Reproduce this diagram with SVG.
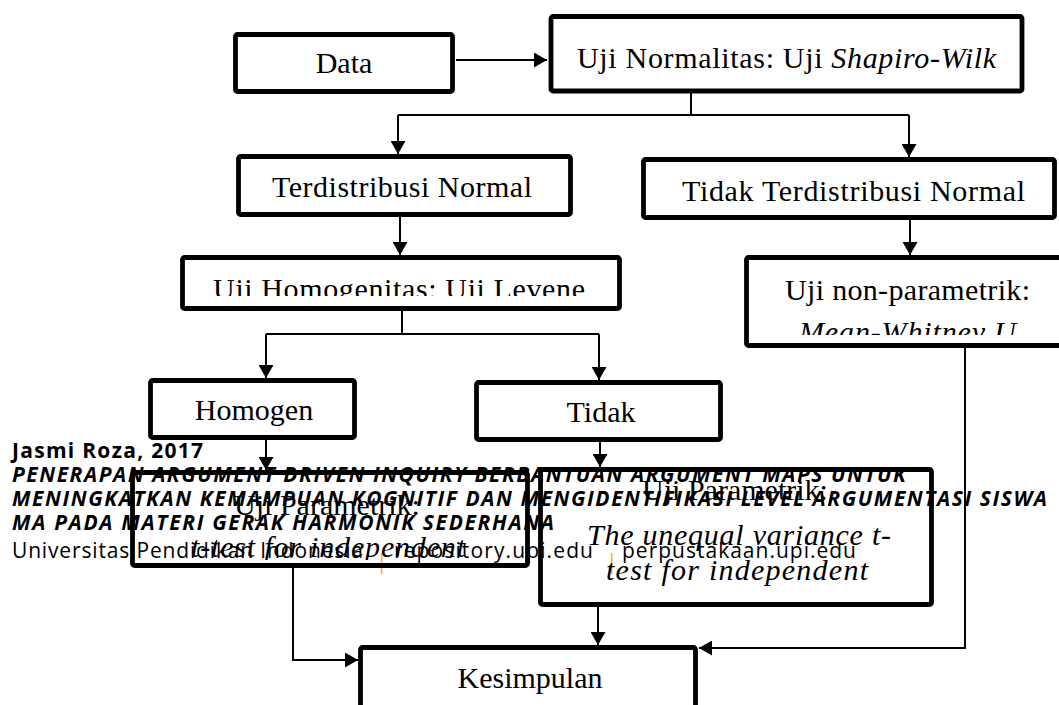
<svg xmlns="http://www.w3.org/2000/svg" width="1059" height="705" viewBox="0 0 1059 705">
<style>
.box{fill:none;stroke:#000;stroke-width:4.8;stroke-linejoin:round}
.conn{fill:none;stroke:#000;stroke-width:2}
.t{font-family:"Liberation Serif","Times New Roman",serif;font-size:30px;fill:#000}
.c{text-anchor:middle}
.i{font-style:italic}
.wm{font-family:"Open Sans","DejaVu Sans",sans-serif;font-size:21px;fill:#000}
.bi{font-weight:bold;font-style:italic}
.b{font-weight:bold}
.pipe{fill:#f0b400}
</style>
<defs>
<marker id="ah" markerUnits="userSpaceOnUse" viewBox="0 0 13 15" markerWidth="13" markerHeight="15" refX="13" refY="7.5" orient="auto">
<path d="M0,0 L13,7.5 L0,15 z" fill="#000"/>
</marker>
<clipPath id="clipHomog"><rect x="180" y="255" width="442" height="41"/></clipPath>
<clipPath id="clipMW"><rect x="744" y="305" width="330" height="30"/></clipPath>
<clipPath id="clipTt"><rect x="130" y="525" width="400" height="35"/></clipPath>
</defs>
<rect width="1059" height="705" fill="#fff"/>

<g id="watermark">
<text class="wm b" x="12" y="458" textLength="191" lengthAdjust="spacing">Jasmi Roza, 2017</text>
<text class="wm bi" x="12" y="482" textLength="894" lengthAdjust="spacing">PENERAPAN ARGUMENT DRIVEN INQUIRY BERBANTUAN ARGUMENT MAPS UNTUK</text>
<text class="wm bi" x="12" y="506" textLength="1035" lengthAdjust="spacing">MENINGKATKAN KEMAMPUAN KOGNITIF DAN MENGIDENTIFIKASI LEVEL ARGUMENTASI SISWA</text>
<text class="wm bi" x="12" y="530" textLength="542" lengthAdjust="spacing">MA PADA MATERI GERAK HARMONIK SEDERHANA</text>
<text class="wm" x="12" y="558" textLength="351" lengthAdjust="spacing">Universitas Pendidikan Indonesia</text>
<text class="wm pipe" x="376" y="569">|</text>
<text class="wm" x="394" y="558" textLength="199" lengthAdjust="spacing">repository.upi.edu</text>
<text class="wm pipe" x="606" y="569">|</text>
<text class="wm" x="622" y="558" textLength="234" lengthAdjust="spacing">perpustakaan.upi.edu</text>
</g>

<g id="connectors">
<path class="conn" d="M456,60 H547" marker-end="url(#ah)"/>
<path class="conn" d="M691,93 V115 M398,115 H909"/>
<path class="conn" d="M398,115 V154" marker-end="url(#ah)"/>
<path class="conn" d="M909,115 V157" marker-end="url(#ah)"/>
<path class="conn" d="M400,217 V255" marker-end="url(#ah)"/>
<path class="conn" d="M910,220 V255" marker-end="url(#ah)"/>
<path class="conn" d="M402,311 V334 M266,334 H599"/>
<path class="conn" d="M266,334 V378" marker-end="url(#ah)"/>
<path class="conn" d="M599,334 V380" marker-end="url(#ah)"/>
<path class="conn" d="M266,440 V470" marker-end="url(#ah)"/>
<path class="conn" d="M600,442 V467" marker-end="url(#ah)"/>
<path class="conn" d="M293,568 V660 H358" marker-end="url(#ah)"/>
<path class="conn" d="M598,607 V645" marker-end="url(#ah)"/>
<path class="conn" d="M965,348 V648 H699" marker-end="url(#ah)"/>
</g>

<g id="data">
<rect class="box" x="235.5" y="34.5" width="217" height="57" rx="2"/>
<text class="t c" x="344" y="73">Data</text>
</g>
<g id="normalitas">
<rect class="box" x="551" y="16.5" width="471" height="74.5" rx="2"/>
<text class="t" x="577" y="68" textLength="419" lengthAdjust="spacing">Uji Normalitas: Uji <tspan class="i">Shapiro-Wilk</tspan></text>
</g>
<g id="terdistribusi">
<rect class="box" x="238.5" y="156.5" width="332" height="58" rx="2"/>
<text class="t" x="272" y="197" textLength="260" lengthAdjust="spacing">Terdistribusi Normal</text>
</g>
<g id="tidak-terdistribusi">
<rect class="box" x="643.5" y="159.5" width="411" height="58" rx="2"/>
<text class="t" x="682" y="201" textLength="343" lengthAdjust="spacing">Tidak Terdistribusi Normal</text>
</g>
<g id="homogenitas">
<rect class="box" x="182.5" y="257.5" width="437" height="51" rx="2"/>
<text class="t" x="213" y="299" textLength="372" lengthAdjust="spacing" clip-path="url(#clipHomog)">Uji Homogenitas: Uji Levene</text>
</g>
<g id="non-parametrik">
<rect class="box" x="746.5" y="257.5" width="330" height="88" rx="2"/>
<text class="t" x="785" y="300" textLength="245" lengthAdjust="spacing">Uji non-parametrik:</text>
<text class="t i" x="799" y="342" textLength="217" lengthAdjust="spacing" clip-path="url(#clipMW)">Mean-Whitney U</text>
</g>
<g id="homogen">
<rect class="box" x="150.5" y="380.5" width="204" height="57" rx="2"/>
<text class="t c" x="254" y="420">Homogen</text>
</g>
<g id="tidak">
<rect class="box" x="476.5" y="382.5" width="244" height="57" rx="2"/>
<text class="t c" x="601" y="422">Tidak</text>
</g>
<g id="parametrik-kiri">
<rect class="box" x="132.5" y="472.5" width="395" height="93" rx="2"/>
<text class="t c" x="327" y="515">Uji Parametrik:</text>
<text class="t i" x="191" y="557" textLength="274" lengthAdjust="spacing" clip-path="url(#clipTt)">t-test for independent</text>
</g>
<g id="parametrik-kanan">
<rect class="box" x="540.5" y="469.5" width="391" height="135" rx="2"/>
<text class="t c" x="735" y="500">Uji Parametrik:</text>
<text class="t i" x="587" y="545" textLength="304" lengthAdjust="spacing">The unequal variance t-</text>
<text class="t i" x="606" y="580" textLength="262" lengthAdjust="spacing">test for independent</text>
</g>
<g id="kesimpulan">
<rect class="box" x="360.5" y="647.5" width="335" height="80" rx="2"/>
<text class="t c" x="530" y="688">Kesimpulan</text>
</g>
</svg>
